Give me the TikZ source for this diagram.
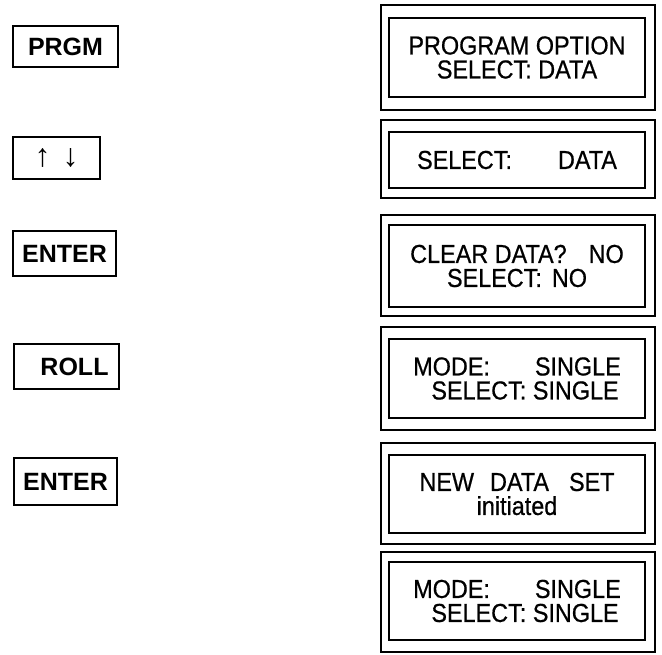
\documentclass[tikz,border=0pt]{standalone}
\usepackage{fontspec}
\newfontfamily\lcdfont[FakeStretch=0.9,FakeBold=0.6]{Liberation Sans}
\newfontfamily\keyfont{Liberation Sans}
\begin{document}
\begin{tikzpicture}[x=1pt,y=-1pt,
  keybox/.style={draw, line width=1.9pt, inner sep=0pt, font=\keyfont\bfseries\fontsize{25}{25}\selectfont},
  lcdouter/.style={draw, line width=1.4pt, inner sep=0pt, minimum width=274pt},
  lcdinner/.style={draw, line width=1.4pt, inner sep=0pt, minimum width=256pt, align=center,
    font=\lcdfont\fontsize{26}{24}\selectfont}]
\useasboundingbox (0,0) rectangle (662,655);
% keys
\node[keybox, minimum width=105pt, minimum height=41pt] (k1) at (65.5,46.5) {PRGM};
\node[keybox, minimum width=87pt, minimum height=42pt] (k2) at (56.5,158)
  {\mdseries\fontsize{32}{32}\selectfont ↑\hspace{12pt}↓};
\node[keybox, minimum width=103pt, minimum height=45pt] (k3) at (64.5,253.5) {ENTER};
\node[keybox, minimum width=105pt, minimum height=45pt] (k4) at (66.5,366.5) {\hspace*{16pt}ROLL};
\node[keybox, minimum width=103pt, minimum height=47pt] (k5) at (65.5,481.5) {ENTER};
% displays
\node[lcdouter, minimum height=105pt] (o1) at (518,57.5) {};
\node[lcdinner, minimum height=79pt] (d1) at (517,57.5) {PROGRAM OPTION\\SELECT: DATA};
\node[lcdouter, minimum height=78pt] (o2) at (518,159) {};
\node[lcdinner, minimum height=56pt] (d2) at (517,160) {SELECT:\hspace{46pt}DATA};
\node[lcdouter, minimum height=101pt] (o3) at (518,265.5) {};
\node[lcdinner, minimum height=82pt] (d3) at (517,266) {CLEAR DATA?\hspace{22pt}NO\\SELECT:\hspace{10pt}NO};
\node[lcdouter, minimum height=103pt] (o4) at (518,378.5) {};
\node[lcdinner, minimum height=79pt] (d4) at (517,378.5) {MODE:\hspace{45pt}SINGLE\\\hspace*{16pt}SELECT: SINGLE};
\node[lcdouter, minimum height=101pt] (o5) at (518,493.5) {};
\node[lcdinner, minimum height=78pt] (d5) at (517,494) {NEW\hspace{16pt}DATA\hspace{20pt}SET\\initiated};
\node[lcdouter, minimum height=100pt] (o6) at (518,602) {};
\node[lcdinner, minimum height=78pt] (d6) at (517,601) {MODE:\hspace{45pt}SINGLE\\\hspace*{16pt}SELECT: SINGLE};
\end{tikzpicture}
\end{document}
